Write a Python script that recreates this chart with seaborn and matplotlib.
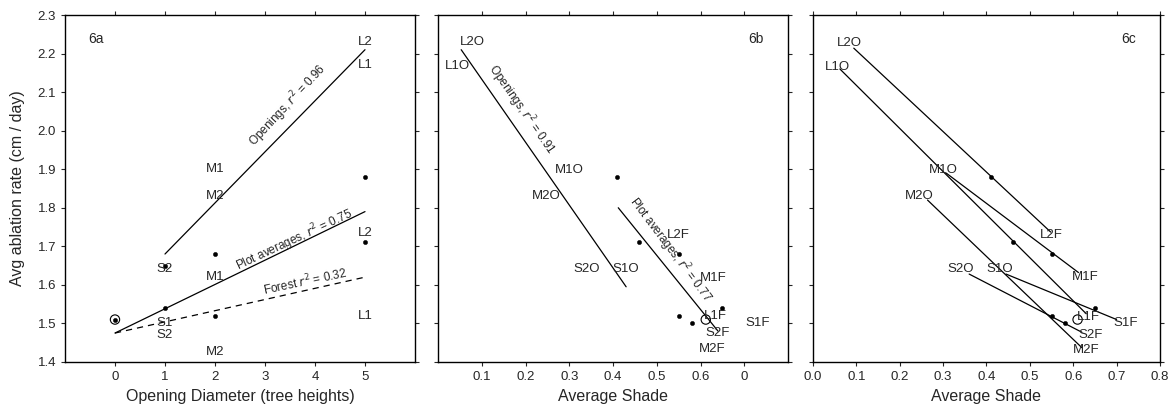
import pandas as pd
import matplotlib.pyplot as plt
import seaborn as sns

# ---- panel 6a: opening diameter ----
diam_x = [5, 2, 1, 5, 0, 1, 2]
diam_y = [1.88, 1.68, 1.65, 1.71, 1.51, 1.54, 1.52]
a_labels = ['L2', 'L1', 'M1', 'M2', 'S2', 'L2', 'M1', 'L1', 'S1', 'S2', 'M2']
a_label_x = [5, 5, 2, 2, 1, 5, 2, 5, 1, 1, 2]
a_label_y = [2.23, 2.17, 1.90, 1.83, 1.64, 1.735, 1.62, 1.52, 1.50, 1.47, 1.425]
a_open_x = [1, 5]
a_open_y = [1.68, 2.21]
a_avg_x = [0, 5]
a_avg_y = [1.475, 1.79]
a_forest_x = [0, 5]
a_forest_y = [1.475, 1.62]

# ---- panels 6b / 6c: average shade ----
shade_x = [0.41, 0.46, 0.55, 0.55, 0.58, 0.65]
shade_y = [1.88, 1.71, 1.68, 1.52, 1.50, 1.54]
site_labels = ['L2O', 'L1O', 'M1O', 'M2O', 'S2O', 'S1O',
               'L2F', 'M1F', 'L1F', 'S1F', 'S2F', 'M2F']
b_label_x = [0.078, 0.045, 0.30, 0.247, 0.34, 0.43, 0.55, 0.63, 0.635, 0.73, 0.64, 0.627]
b_label_y = [2.23, 2.168, 1.898, 1.83, 1.64, 1.64, 1.73, 1.618, 1.52, 1.50, 1.475, 1.434]
c_label_x = [0.085, 0.057, 0.30, 0.245, 0.34, 0.43, 0.55, 0.628, 0.635, 0.72, 0.64, 0.63]
c_label_y = [2.227, 2.165, 1.898, 1.83, 1.64, 1.64, 1.73, 1.62, 1.517, 1.50, 1.47, 1.43]
b_open_x = [0.053, 0.43]
b_open_y = [2.21, 1.595]
b_avg_x = [0.412, 0.64]
b_avg_y = [1.80, 1.48]

# 6c: each site, opening -> forest
pair_site = ['L2', 'L1', 'M1', 'M2', 'S2', 'S1']
open_x = [0.094, 0.062, 0.307, 0.264, 0.36, 0.445]
open_y = [2.214, 2.16, 1.89, 1.82, 1.628, 1.628]
forest_x = [0.548, 0.63, 0.612, 0.62, 0.62, 0.70]
forest_y = [1.737, 1.525, 1.632, 1.437, 1.477, 1.51]

sns.set_style('ticks')
plt.rcParams['font.family'] = ['Liberation Sans', 'DejaVu Sans']

fig = plt.figure(figsize=(11.73, 4.17), dpi=100)
ax_a = fig.add_axes([0.0554, 0.132, 0.2984, 0.832])
ax_b = fig.add_axes([0.3734, 0.132, 0.2984, 0.832])
ax_c = fig.add_axes([0.6931, 0.132, 0.2958, 0.832])

lw = 0.9
fs = 9.5

# panel a
sns.lineplot(x=a_open_x, y=a_open_y, ax=ax_a, color='black', lw=lw)
sns.lineplot(x=a_avg_x, y=a_avg_y, ax=ax_a, color='black', lw=lw)
sns.lineplot(x=a_forest_x, y=a_forest_y, ax=ax_a, color='black', lw=lw, linestyle=(0, (5, 4)))
sns.scatterplot(x=diam_x, y=diam_y, ax=ax_a, color='black', s=10, edgecolor='black')
ax_a.scatter([diam_x[4]], [diam_y[4]], s=45, facecolor='none', edgecolor='black', lw=0.8)
for t, x, y in zip(a_labels, a_label_x, a_label_y):
    ax_a.text(x, y, t, ha='center', va='center', fontsize=fs)
ax_a.text(3.45, 2.065, 'Openings, $r^2$ = 0.96', rotation=47, ha='center', va='center', fontsize=8.5)
ax_a.text(3.6, 1.715, 'Plot averages, $r^2$ = 0.75', rotation=25, ha='center', va='center', fontsize=8.5)
ax_a.text(3.8, 1.608, 'Forest $r^2$ = 0.32', rotation=12, ha='center', va='center', fontsize=8.5)
ax_a.text(0.066, 0.93, '6a', transform=ax_a.transAxes, ha='left', va='center', fontsize=10)
ax_a.set_xlim(-1, 6)
ax_a.set_xticks([0, 1, 2, 3, 4, 5])
ax_a.set_xlabel('Opening Diameter (tree heights)', fontsize=11.5)
ax_a.set_ylabel('Avg ablation rate (cm / day)', fontsize=11.5, labelpad=9)

# panel b
sns.lineplot(x=b_open_x, y=b_open_y, ax=ax_b, color='black', lw=lw)
sns.lineplot(x=b_avg_x, y=b_avg_y, ax=ax_b, color='black', lw=lw)
sns.scatterplot(x=shade_x, y=shade_y, ax=ax_b, color='black', s=10, edgecolor='black')
ax_b.scatter([0.612], [1.51], s=45, facecolor='none', edgecolor='black', lw=0.8)
for t, x, y in zip(site_labels, b_label_x, b_label_y):
    ax_b.text(x, y, t, ha='center', va='center', fontsize=fs)
ax_b.text(0.19, 2.055, 'Openings, $r^2$ = 0.91', rotation=-55, ha='center', va='center', fontsize=8.5)
ax_b.text(0.53, 1.69, 'Plot averages, $r^2$ = 0.77', rotation=-53, ha='center', va='center', fontsize=8.5)
ax_b.text(0.93, 0.93, '6b', transform=ax_b.transAxes, ha='right', va='center', fontsize=10)
ax_b.set_xlim(0, 0.8)
ax_b.set_xticks([0.1, 0.2, 0.3, 0.4, 0.5, 0.6, 0.7])
ax_b.set_xticklabels(['0.1', '0.2', '0.3', '0.4', '0.5', '0.6', '0'])
ax_b.set_xlabel('Average Shade', fontsize=11.5)

# panel c
pairs = pd.DataFrame({
    'site': pair_site * 2,
    'shade': open_x + forest_x,
    'abl': open_y + forest_y,
})
sns.lineplot(data=pairs, x='shade', y='abl', units='site', estimator=None,
             sort=False, ax=ax_c, color='black', lw=lw)
sns.scatterplot(x=shade_x, y=shade_y, ax=ax_c, color='black', s=10, edgecolor='black')
ax_c.scatter([0.61], [1.51], s=45, facecolor='none', edgecolor='black', lw=0.8)
for t, x, y in zip(site_labels, c_label_x, c_label_y):
    ax_c.text(x, y, t, ha='center', va='center', fontsize=fs)
ax_c.text(0.93, 0.93, '6c', transform=ax_c.transAxes, ha='right', va='center', fontsize=10)
ax_c.set_xlim(0, 0.8)
ax_c.set_xticks([0.0, 0.1, 0.2, 0.3, 0.4, 0.5, 0.6, 0.7, 0.8])
ax_c.set_xlabel('Average Shade', fontsize=11.5)

for ax in (ax_a, ax_b, ax_c):
    ax.set_ylim(1.4, 2.3)
    ax.set_yticks([1.4, 1.5, 1.6, 1.7, 1.8, 1.9, 2.0, 2.1, 2.2, 2.3])
    ax.tick_params(direction='out', length=3, width=0.8, labelsize=9.5,
                   top=True, right=True)
    for sp in ax.spines.values():
        sp.set_visible(True)
        sp.set_linewidth(1.0)
        sp.set_color('black')
    if ax is not ax_a:
        ax.set_ylabel('')
        ax.tick_params(labelleft=False)

plt.savefig('out.png', dpi=100)
print('saved out.png')
